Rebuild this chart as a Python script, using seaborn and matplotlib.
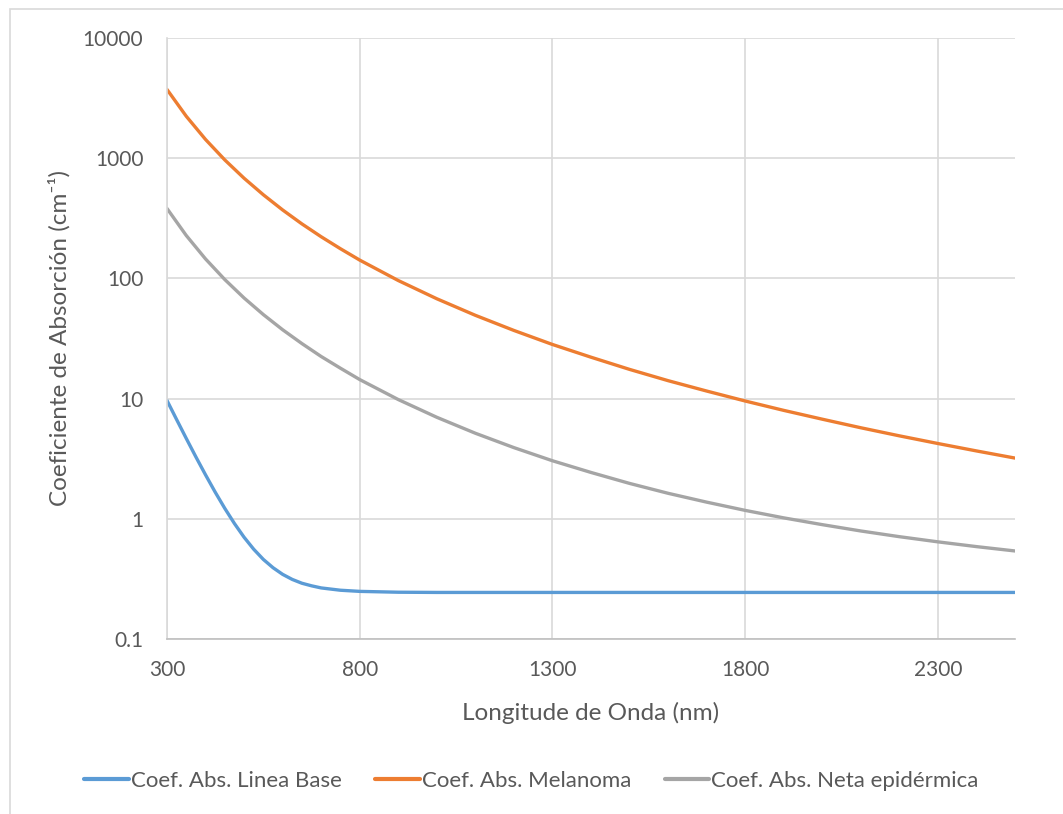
import pandas as pd
import seaborn as sns
import matplotlib
matplotlib.use("Agg")
import matplotlib.pyplot as plt
from matplotlib.patches import Rectangle

# wavelengths (nm) and absorption coefficients (cm^-1)
wavelength = [300, 350, 400, 450, 500, 550, 600, 650, 700, 750, 800, 900,
              1000, 1100, 1200, 1300, 1400, 1500, 1600, 1700, 1800, 1900,
              2000, 2100, 2200, 2300, 2400, 2500]
melanoma = [3730, 2232, 1431, 967, 681, 496, 371, 284, 222, 176.5, 142, 96,
            67.7, 49.3, 36.9, 28.2, 22.1, 17.5, 14.1, 11.56, 9.55, 7.98,
            6.74, 5.72, 4.90, 4.23, 3.67, 3.20]
neta_epidermica = [381.7, 227.4, 145.2, 97.8, 68.7, 50.0, 37.4, 28.7, 22.4, 17.9,
                   14.4, 9.82, 6.99, 5.15, 3.91, 3.04, 2.43, 1.97, 1.63, 1.376,
                   1.175, 1.018, 0.894, 0.792, 0.710, 0.643, 0.587, 0.540]

# baseline read more densely where it bends
wavelength_base = [300, 325, 350, 375, 400, 425, 450, 475, 500, 525, 550, 575,
                   600, 625, 650, 675, 700, 750, 800, 900, 1000, 1100, 1200,
                   1300, 1400, 1500, 1600, 1700, 1800, 1900, 2000, 2100, 2200,
                   2300, 2400, 2500]
linea_base = [9.64, 6.69, 4.66, 3.27, 2.32, 1.667, 1.22, 0.913, 0.702, 0.558,
              0.459, 0.392, 0.345, 0.313, 0.291, 0.277, 0.266, 0.2545, 0.249,
              0.245, 0.244, 0.244, 0.244, 0.244, 0.244, 0.244, 0.244, 0.244,
              0.244, 0.244, 0.244, 0.244, 0.244, 0.244, 0.244, 0.244]

series_names = ["Coef. Abs. Linea Base", "Coef. Abs. Melanoma",
                "Coef. Abs. Neta epidérmica"]
colors = ["#5b9bd5", "#ed7d31", "#a5a5a5"]

df = pd.concat([
    pd.DataFrame({"wl": wavelength_base, "val": linea_base, "serie": series_names[0]}),
    pd.DataFrame({"wl": wavelength, "val": melanoma, "serie": series_names[1]}),
    pd.DataFrame({"wl": wavelength, "val": neta_epidermica, "serie": series_names[2]}),
])

sns.set_style("white")
plt.rcParams['font.family'] = ['Lato', 'DejaVu Sans']
text_color = "#595959"

fig = plt.figure(figsize=(10.63, 8.14), dpi=100)
ax = fig.add_axes([167/1063, 1 - 639/814, (1015-167)/1063, (639-38)/814])

sns.lineplot(data=df, x="wl", y="val", hue="serie", palette=colors,
             linewidth=2.4, ax=ax, legend=False, sort=False)

ax.set_yscale("log")
ax.set_ylim(0.1, 10000)
ax.set_xlim(300, 2500)
ax.set_xticks([300, 800, 1300, 1800, 2300])
ax.set_yticks([0.1, 1, 10, 100, 1000, 10000])
ax.set_yticklabels(["0.1", "1", "10", "100", "1000", "10000"])
ax.minorticks_off()
ax.grid(True, color="#d9d9d9", linewidth=1.2)
ax.set_axisbelow(True)
for s in ["top", "right"]:
    ax.spines[s].set_visible(False)
ax.spines["left"].set_color("#d9d9d9")
ax.spines["left"].set_linewidth(1.2)
ax.spines["bottom"].set_color("#bfbfbf")
ax.spines["bottom"].set_linewidth(1.2)
ax.tick_params(length=0, labelsize=15, colors=text_color)
ax.tick_params(axis="y", pad=17)
ax.tick_params(axis="x", pad=15)

ax.set_xlabel("Longitude de Onda (nm)", fontsize=17.5, color=text_color, labelpad=16)
ax.set_ylabel("Coeficiente de Absorción (cm⁻¹)", fontsize=17.5, color=text_color,
              labelpad=9)

handles = [plt.Line2D([], [], color=c, linewidth=3) for c in colors]
fig.legend(handles, series_names, loc="center", bbox_to_anchor=(0.5, 1 - 781/814),
           ncol=3, frameon=False, fontsize=16, labelcolor=text_color,
           handlelength=2.0, handletextpad=0.1, columnspacing=1.5)

fig.patches.append(Rectangle((10/1063, -0.1), 1.2, 1 - 9/814 + 0.1,
                             transform=fig.transFigure, fill=False,
                             edgecolor="#d9d9d9", linewidth=1.2))

fig.savefig("out.png", dpi=100)
